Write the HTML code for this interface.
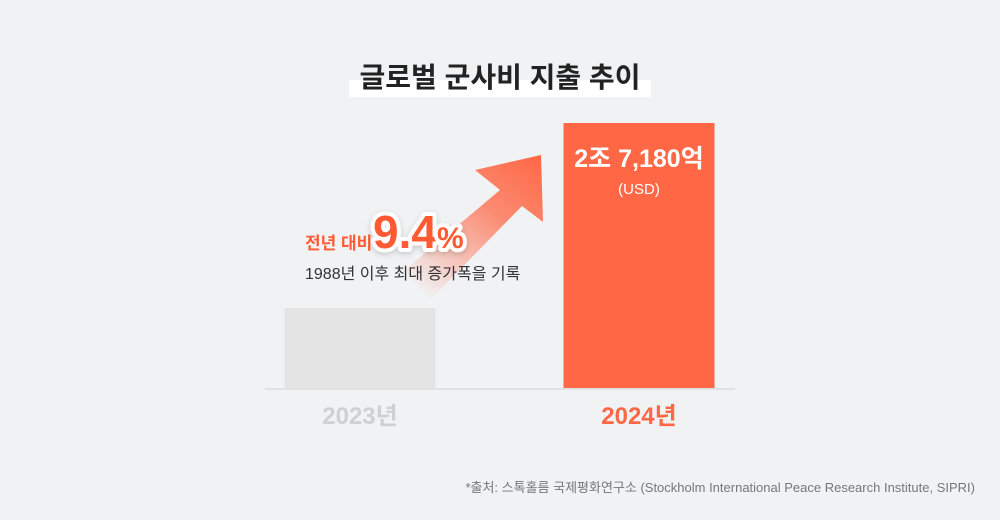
<!DOCTYPE html>
<html><head><meta charset="utf-8">
<style>
body{margin:0;background:#f1f2f4;}
#wrap{position:relative;width:1000px;height:520px;overflow:hidden;background:#f1f2f4;font-family:"Liberation Sans","Noto Sans CJK KR",sans-serif;}
svg text{font-family:"Liberation Sans","Noto Sans CJK KR",sans-serif;}
</style></head>
<body>
<div id="wrap">
<svg id="chart" width="1000" height="520">
<defs>
<linearGradient id="ag" x1="430" y1="300" x2="541" y2="155" gradientUnits="userSpaceOnUse">
<stop offset="0" stop-color="#ff6745" stop-opacity="0"/>
<stop offset="0.6" stop-color="#ff6745" stop-opacity="0.75"/>
<stop offset="1" stop-color="#ff6745"/>
</linearGradient>
<filter id="sh" x="-20%" y="-20%" width="140%" height="140%"><feDropShadow dx="0" dy="2" stdDeviation="3" flood-color="#000" flood-opacity="0.18"/></filter>
</defs>
<rect x="349" y="80" width="302" height="17" fill="#fff"/>
<text x="500" y="87" text-anchor="middle" font-size="28" font-weight="bold" fill="#222">글로벌 군사비 지출 추이</text>
<polygon points="430,300 405,270 500,190 475,170 541,155 543,222 522,206" fill="url(#ag)"/>
<g id="bars"></g>
<line x1="265" y1="389" x2="735" y2="389" stroke="#e0e1e3" stroke-width="2"/>
<text x="305" y="249" font-size="17" font-weight="bold" fill="#ff5a32">전년 대비</text>
<text x="373" y="248" font-size="46" font-weight="bold" fill="#ff5a32" stroke="#fff" stroke-width="8" paint-order="stroke" stroke-linejoin="round" filter="url(#sh)">9.4<tspan font-size="30">%</tspan></text>
<text x="305" y="279" font-size="16" fill="#333">1988년 이후 최대 증가폭을 기록</text>
<text x="975" y="492" text-anchor="end" font-size="13" fill="#777">*출처: 스톡홀름 국제평화연구소 (Stockholm International Peace Research Institute, SIPRI)</text>
</svg>
</div>
<script>
const categories = ["2023년", "2024년"];
const values = [24430, 27180];
const valueLabels = ["", "2조 7,180억"];
const units = ["", "(USD)"];
const baseY = 388, vMin = 23241, k = 185 / 2750;
function y(v){ return baseY - (v - vMin) * k; }
function xc(i){ return 360 + i * 279; }
const g = document.getElementById('bars');
const NS = "http://www.w3.org/2000/svg";
categories.forEach((c, i) => {
  const hi = i === categories.length - 1;
  const r = document.createElementNS(NS, 'rect');
  r.setAttribute('x', xc(i) - 75.5);
  r.setAttribute('width', 151);
  r.setAttribute('y', y(values[i]));
  r.setAttribute('height', baseY - y(values[i]));
  r.setAttribute('fill', hi ? '#ff6745' : '#e4e4e5');
  
  
  g.appendChild(r);
  const t = document.createElementNS(NS, 'text');
  t.setAttribute('x', xc(i));
  t.setAttribute('y', 424);
  t.setAttribute('text-anchor', 'middle');
  t.setAttribute('font-size', '24');
  t.setAttribute('font-weight', 'bold');
  t.setAttribute('fill', hi ? '#ff6745' : '#d0d0d2');
  t.textContent = c;
  
  
  g.appendChild(t);
  if (valueLabels[i]) {
    const v = document.createElementNS(NS, 'text');
    v.setAttribute('x', xc(i));
    v.setAttribute('y', y(values[i]) + 44);
    v.setAttribute('text-anchor', 'middle');
    v.setAttribute('font-size', '25');
    v.setAttribute('font-weight', 'bold');
    v.setAttribute('fill', '#fff');
    v.textContent = valueLabels[i];
    
    
    g.appendChild(v);
    const u = document.createElementNS(NS, 'text');
    u.setAttribute('x', xc(i));
    u.setAttribute('y', y(values[i]) + 71);
    u.setAttribute('text-anchor', 'middle');
    u.setAttribute('font-size', '15');
    u.setAttribute('fill', '#fff');
    u.textContent = units[i];
    
    
    g.appendChild(u);
  }
});
</script>
</body></html>
